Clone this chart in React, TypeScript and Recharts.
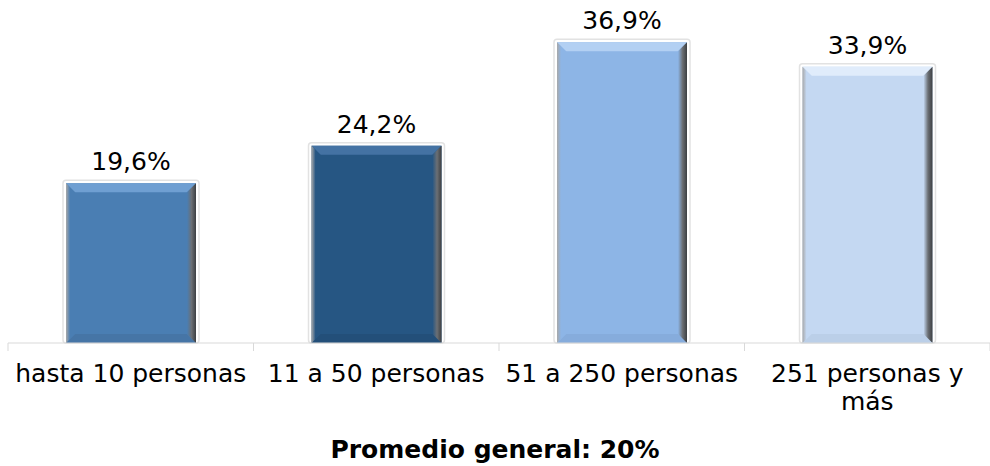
import { BarChart, Bar, XAxis, YAxis, Cell, LabelList } from "recharts";

const categories = [
  "hasta 10 personas",
  "11 a 50 personas",
  "51 a 250 personas",
  "251 personas y más",
];
const values = [19.6, 24.2, 36.9, 33.9];
const footnote = "Promedio general: 20%";

// fill, top bevel, bottom bevel
const palette = [
  ["#4a7eb3", "#6f9fd2", "#4675a6"],
  ["#265683", "#4472a3", "#234f79"],
  ["#8db5e6", "#b3d0f3", "#86acdc"],
  ["#c4d8f2", "#e0ecfb", "#bbcfe8"],
];

const FONT = "'DejaVu Sans', Verdana, sans-serif";
const W = 990;
const H = 466;
const LEFT = 8;
const band = (W - LEFT) / categories.length;

const data = categories.map((name, i) => ({ name, value: values[i] }));

function BevelBar(props: any) {
  const { x, y, width: w, height: h, index } = props;
  const [main, top, bottom] = palette[index];
  const b = 9;
  const id = `g${index}`;
  return (
    <g>
      <defs>
        <linearGradient id={`${id}l`} x1="0" y1="0" x2="1" y2="0">
          <stop offset="0" stopColor="#a8a8a8" />
          <stop offset="0.45" stopColor={main} />
          <stop offset="1" stopColor={main} />
        </linearGradient>
        <linearGradient id={`${id}r`} x1="0" y1="0" x2="1" y2="0">
          <stop offset="0" stopColor={main} />
          <stop offset="0.5" stopColor="#6b6f74" />
          <stop offset="1" stopColor="#3c3f42" />
        </linearGradient>
      </defs>
      <rect
        x={x - 3}
        y={y - 3}
        width={w + 6}
        height={h + 3}
        rx={3}
        fill="#fff"
        stroke="#e2e2e2"
        strokeWidth={1.5}
      />
      <rect x={x} y={y} width={w} height={h} fill={main} />
      <polygon
        points={`${x},${y} ${x + w},${y} ${x + w - b},${y + b} ${x + b},${y + b}`}
        fill={top}
      />
      <polygon
        points={`${x},${y + h} ${x + b},${y + h - b} ${x + w - b},${y + h - b} ${x + w},${y + h}`}
        fill={bottom}
      />
      <polygon
        points={`${x},${y} ${x + b},${y + b} ${x + b},${y + h - b} ${x},${y + h}`}
        fill={`url(#${id}l)`}
      />
      <polygon
        points={`${x + w},${y} ${x + w - b},${y + b} ${x + w - b},${y + h - b} ${x + w},${y + h}`}
        fill={`url(#${id}r)`}
      />
    </g>
  );
}

function CategoryTick(props: any) {
  const { x, y, payload, index } = props;
  const label: string = payload.value;
  let lines = [label];
  if (label.length > 17) {
    const cut = label.lastIndexOf(" ");
    lines = [label.slice(0, cut), label.slice(cut + 1)];
  }
  return (
    <g>
      <line x1={x - band / 2} y1={y} x2={x - band / 2} y2={y + 8} stroke="#d9d9d9" />
      {index === categories.length - 1 && (
        <line x1={x + band / 2} y1={y} x2={x + band / 2} y2={y + 8} stroke="#d9d9d9" />
      )}
      <text
        x={x}
        y={y + 39}
        textAnchor="middle"
        fontSize={25}
        fontFamily={FONT}
        fill="#000"
      >
        {lines.map((l, i) => (
          <tspan key={i} x={x} dy={i === 0 ? 0 : 28}>
            {l}
          </tspan>
        ))}
      </text>
    </g>
  );
}

export default function App() {
  return (
    <div style={{ position: "absolute", left: 0, top: 0, width: W, height: H, background: "#fff", overflow: "hidden" }}>
      <BarChart
        width={W}
        height={H}
        data={data}
        margin={{ top: 17, right: 0, left: LEFT, bottom: 53 }}
        barCategoryGap={58}
      >
        <XAxis
          dataKey="name"
          axisLine={{ stroke: "#d9d9d9" }}
          tickLine={false}
          tickSize={0}
          tickMargin={0}
          height={70}
          interval={0}
          tick={<CategoryTick />}
        />
        <YAxis hide domain={[0, 40]} />
        <Bar dataKey="value" isAnimationActive={false} shape={<BevelBar />}>
          {data.map((d, i) => (
            <Cell key={d.name} fill={palette[i][0]} />
          ))}
          <LabelList
            dataKey="value"
            position="top"
            offset={13}
            fill="#000"
            fontSize={25}
            fontFamily={FONT}
            formatter={(v: any) => `${Number(v).toFixed(1).replace(".", ",")}%`}
          />
        </Bar>
      </BarChart>
      <div
        style={{
          position: "absolute",
          left: 0,
          width: W,
          top: 435,
          textAlign: "center",
          fontFamily: FONT,
          fontWeight: "bold",
          fontSize: 25,
          lineHeight: "30px",
          color: "#000",
        }}
      >
        {footnote}
      </div>
    </div>
  );
}
